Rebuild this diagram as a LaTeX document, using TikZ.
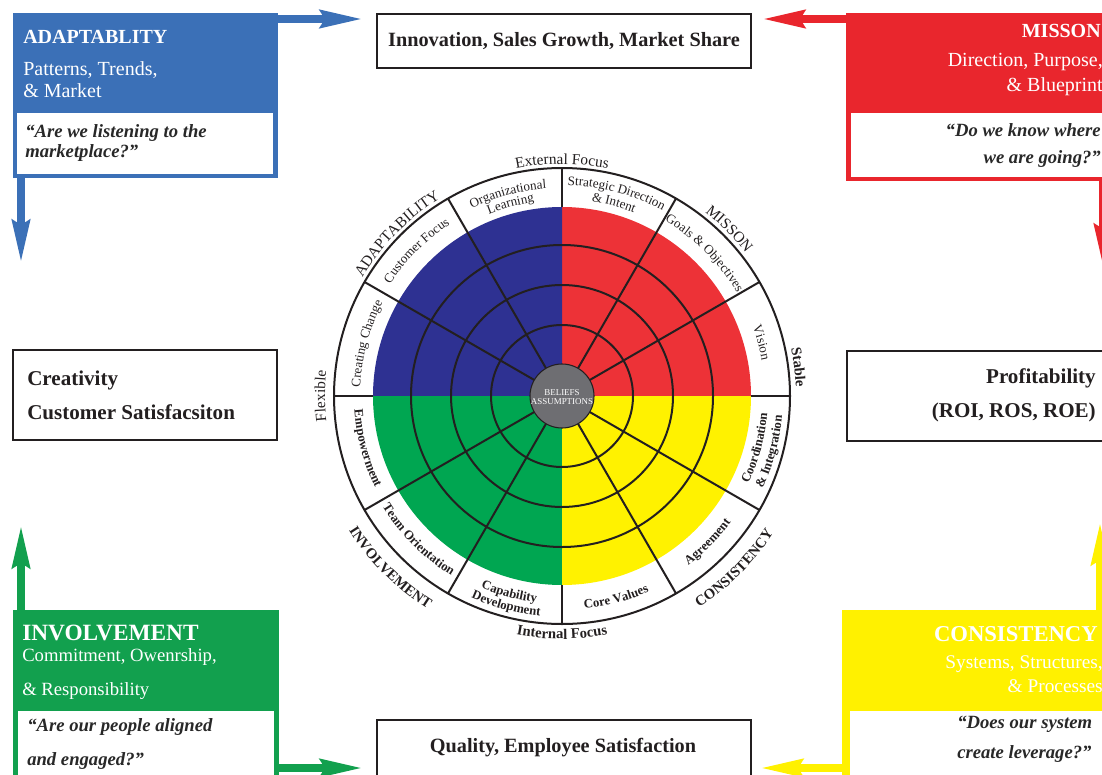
\documentclass[tikz,border=0pt]{standalone}
\usepackage{fontspec}
\setmainfont{Liberation Serif}
\usetikzlibrary{arrows.meta,decorations.text,fit}

\definecolor{boxblue}{RGB}{59,112,183}
\definecolor{boxred}{RGB}{233,38,45}
\definecolor{boxgreen}{RGB}{18,160,78}
\definecolor{boxyellow}{RGB}{255,241,0}
\definecolor{wblue}{RGB}{46,49,146}
\definecolor{wred}{RGB}{237,50,55}
\definecolor{wgreen}{RGB}{0,166,81}
\definecolor{wyellow}{RGB}{255,242,0}
\definecolor{hubgray}{RGB}{110,110,114}
\definecolor{ink}{RGB}{35,31,32}
\definecolor{quoteink}{RGB}{40,40,40}

\newcommand\setsz[1]{\fontsize{#1}{#1}\selectfont}
% label formats for the wheel
\newcommand\seglab{\setsz{9.8}\color{ink}}
\newcommand\seglabb{\bfseries\setsz{9.6}\color{ink}}
\newcommand\outlab{\setsz{11.5}\color{ink}}
\newcommand\outlabb{\bfseries\setsz{11}\color{ink}}
% curved text: #1 mid angle, #2 baseline radius, #3 format, #4 text
% clockwise run, letters standing outwards (upper half)
\newcommand\cwlabel[4]{%
  \path[decorate,decoration={text along path,text align=center,text={|#3|#4}}]
    (#1+40:#2) arc[start angle=#1+40,end angle=#1-40,radius=#2];}
% counterclockwise run, letters standing inwards (lower half)
\newcommand\ccwlabel[4]{%
  \path[decorate,decoration={text along path,text align=center,text={|#3|#4}}]
    (#1-40:#2) arc[start angle=#1-40,end angle=#1+40,radius=#2];}

\tikzset{
  wline/.style={draw=ink,line width=1.5pt},
  panel/.style={inner sep=0pt,outer sep=0pt},
  frame/.style={draw=ink,line width=2pt,fill=white,inner sep=0pt,outer sep=0pt},
  flow/.style={line width=6.5pt,-{Stealth[length=32pt,width=12.5pt,inset=3pt]}},
  ttl/.style={font=\bfseries\setsz{15},text=white,inner sep=0pt},
  bigttl/.style={font=\bfseries\setsz{17.5},text=white,inner sep=0pt},
  sub/.style={font=\setsz{15},text=white,inner sep=0pt},
  smallsub/.style={font=\setsz{14},text=white,inner sep=0pt},
  qt/.style={font=\bfseries\itshape\setsz{14},text=quoteink,inner sep=0pt},
  res/.style={font=\bfseries\setsz{15.8},text=ink,inner sep=0pt},
}

\begin{document}
\begin{tikzpicture}[x=0.75pt,y=0.75pt]
\useasboundingbox (0,0) rectangle (1102,-774);
\clip (0,0) rectangle (1102,-774);
\fill[white] (0,0) rectangle (1102,-774);

% ---------- the culture wheel ----------
\begin{scope}[shift={(562,-396)}]
  \fill[white] (0,0) circle[radius=228];
  \fill[wred] (0,0) -- (0:189) arc[start angle=0,end angle=90,radius=189] -- cycle;
  \fill[wblue] (0,0) -- (90:189) arc[start angle=90,end angle=180,radius=189] -- cycle;
  \fill[wgreen] (0,0) -- (180:189) arc[start angle=180,end angle=270,radius=189] -- cycle;
  \fill[wyellow] (0,0) -- (270:189) arc[start angle=270,end angle=360,radius=189] -- cycle;
  \foreach \r in {71,111,151} \draw[wline] (0,0) circle[radius=\r];
  \foreach \a in {30,60,120,150,210,240,300,330} \draw[wline] (\a:32) -- (\a:228);
  \foreach \a in {0,90,180,270} \draw[wline] (\a:189) -- (\a:228);
  \draw[wline] (0,0) circle[radius=228];
  \filldraw[fill=hubgray,draw=ink,line width=0.8pt] (0,0) circle[radius=32];
  \node[align=center,text=white,font=\setsz{6.7},inner sep=0pt] (hub) at (0,-1)
    {BELIEFS\\[-0.3pt]ASSUMPTIONS};

  % segment labels, upper half
  \cwlabel{75}{211}{\seglab}{Strategic Direction}
  \cwlabel{75}{197}{\seglab}{{\&} Intent}
  \cwlabel{45}{203}{\seglab}{Goals {\&} Objectives}
  \cwlabel{15}{203}{\seglab}{Vision}
  \cwlabel{105}{208}{\seglab}{Organizational}
  \cwlabel{105}{196}{\seglab}{Learning}
  \cwlabel{135}{205}{\seglab}{Customer Focus}
  \cwlabel{165}{202}{\seglab}{Creating Change}
  % segment labels, lower half
  \ccwlabel{195}{208}{\seglabb}{Empowerment}
  \ccwlabel{225}{211}{\seglabb}{Team Orientation}
  \ccwlabel{255}{208}{\seglabb}{Capability}
  \ccwlabel{255}{221}{\seglabb}{Development}
  \ccwlabel{285}{214}{\seglabb}{Core Values}
  \ccwlabel{315}{211}{\seglabb}{Agreement}
  \ccwlabel{345}{206}{\seglabb}{Coordination}
  \ccwlabel{345}{221}{\seglabb}{{\&} Integration}

  % trait names and axes around the rim
  \cwlabel{90}{232}{\outlab}{External Focus}
  \cwlabel{135.5}{232}{\outlab}{ADAPTABILITY}
  \cwlabel{45}{233}{\outlab}{MISSON}
  \cwlabel{180}{237}{\outlab}{Flexible}
  \cwlabel{7}{234}{\outlabb}{Stable}
  \ccwlabel{225}{252}{\outlabb}{INVOLVEMENT}
  \ccwlabel{315}{252}{\outlabb}{CONSISTENCY}
  \ccwlabel{270}{243}{\outlabb}{Internal Focus}
\end{scope}

% ---------- trait panels ----------
\node[panel,fill=boxblue,fit={(13,-13) (278,-178)}] (adapt) {};
\node[panel,fill=white,fit={(17,-113) (273,-174)}] (adaptq) {};
\node[panel,fill=boxred,fit={(846,-13) (1112,-181)}] (mission) {};
\node[panel,fill=white,fit={(851,-113) (1107,-177)}] (missionq) {};
\node[panel,fill=boxgreen,fit={(13,-610) (279,-790)}] (involve) {};
\node[panel,fill=white,fit={(18,-711) (274,-790)}] (involveq) {};
\node[panel,fill=boxyellow,fit={(842,-610) (1108,-790)}] (consist) {};
\node[panel,fill=white,fit={(850,-711) (1104,-790)}] (consistq) {};

% ---------- outcome boxes ----------
\node[frame,fit={(377,-14) (751,-68)}] (growth) {};
\node[frame,fit={(377,-720) (751,-800)}] (quality) {};
\node[frame,fit={(13,-350) (277,-440)}] (creative) {};
\node[frame,fit={(847,-351) (1120,-441)}] (profit) {};

% ---------- arrows ----------
\coordinate (tA) at (364,-19);
\coordinate (tB) at (21,-264);
\coordinate (tC) at (761,-19);
\coordinate (tD) at (1103,-268);
\coordinate (tE) at (21,-524);
\coordinate (tF) at (364,-768);
\coordinate (tG) at (759,-768);
\coordinate (tH) at (1100,-521);
\draw[flow,boxblue] (adapt.east |- tA) -- (tA);
\draw[flow,boxblue] (adapt.south -| tB) -- (tB);
\draw[flow,boxred] (mission.west |- tC) -- (tC);
\draw[flow,boxred] (mission.south -| tD) -- (tD);
\draw[flow,boxgreen] (involve.north -| tE) -- (tE);
\draw[flow,boxgreen] (involve.east |- tF) -- (tF);
\draw[flow,boxyellow] (consist.west |- tG) -- (tG);
\draw[flow,boxyellow] (consist.north -| tH) -- (tH);

% ---------- panel texts ----------
\node[ttl,anchor=base west] (a1) at (23,-44) {ADAPTABLITY};
\node[sub,anchor=base west] (a2) at (23,-75) {Patterns, Trends,};
\node[sub,anchor=base west] (a3) at (23,-97.3) {\& Market};
\node[qt,anchor=base west] (a4) at (25,-137) {“Are we listening to the};
\node[qt,anchor=base west] (a5) at (25,-157.3) {marketplace?”};

\node[ttl,anchor=base east] (m1) at (1101,-37.3) {MISSON};
\node[sub,anchor=base east] (m2) at (1103,-66.7) {Direction, Purpose,};
\node[sub,anchor=base east] (m3) at (1103,-91.7) {\& Blueprint};
\node[qt,anchor=base east] (m4) at (1101,-136.7) {“Do we know where};
\node[qt,anchor=base east] (m5) at (1101,-163.3) {we are going?”};

\node[bigttl,anchor=base west] (i1) at (22,-640.7) {INVOLVEMENT};
\node[smallsub,anchor=base west] (i2) at (22,-661.7) {Commitment, Owenrship,};
\node[smallsub,anchor=base west] (i3) at (22,-695.7) {\& Responsibility};
\node[qt,anchor=base west] (i4) at (27,-731.7) {“Are our people aligned};
\node[qt,anchor=base west] (i5) at (27,-765) {and engaged?”};

\node[bigttl,font=\bfseries\setsz{17},anchor=base east] (c1) at (1098,-641.7) {CONSISTENCY};
\node[sub,font=\setsz{14.5},anchor=base east] (c2) at (1103,-668.3) {Systems, Structures,};
\node[sub,font=\setsz{14.5},anchor=base east] (c3) at (1103,-692.3) {\& Processes};
\node[qt,anchor=base west] (c4) at (957,-728.3) {“Does our system};
\node[qt,anchor=base west] (c5) at (957,-758.3) {create leverage?”};

% ---------- outcome texts ----------
\node[res,font=\bfseries\setsz{15.2},anchor=base] (g1) at (564,-46.7) {Innovation, Sales Growth, Market Share};
\node[res,font=\bfseries\setsz{15.2},anchor=base] (q1) at (563,-752) {Quality, Employee Satisfaction};
\node[res,anchor=base west] (cr1) at (27,-385) {Creativity};
\node[res,anchor=base west] (cr2) at (27,-419.3) {Customer Satisfacsiton};
\node[res,anchor=base east] (p1) at (1096,-383.3) {Profitability};
\node[res,anchor=base east] (p2) at (1096,-417.3) {(ROI, ROS, ROE)};
\end{tikzpicture}
\end{document}
